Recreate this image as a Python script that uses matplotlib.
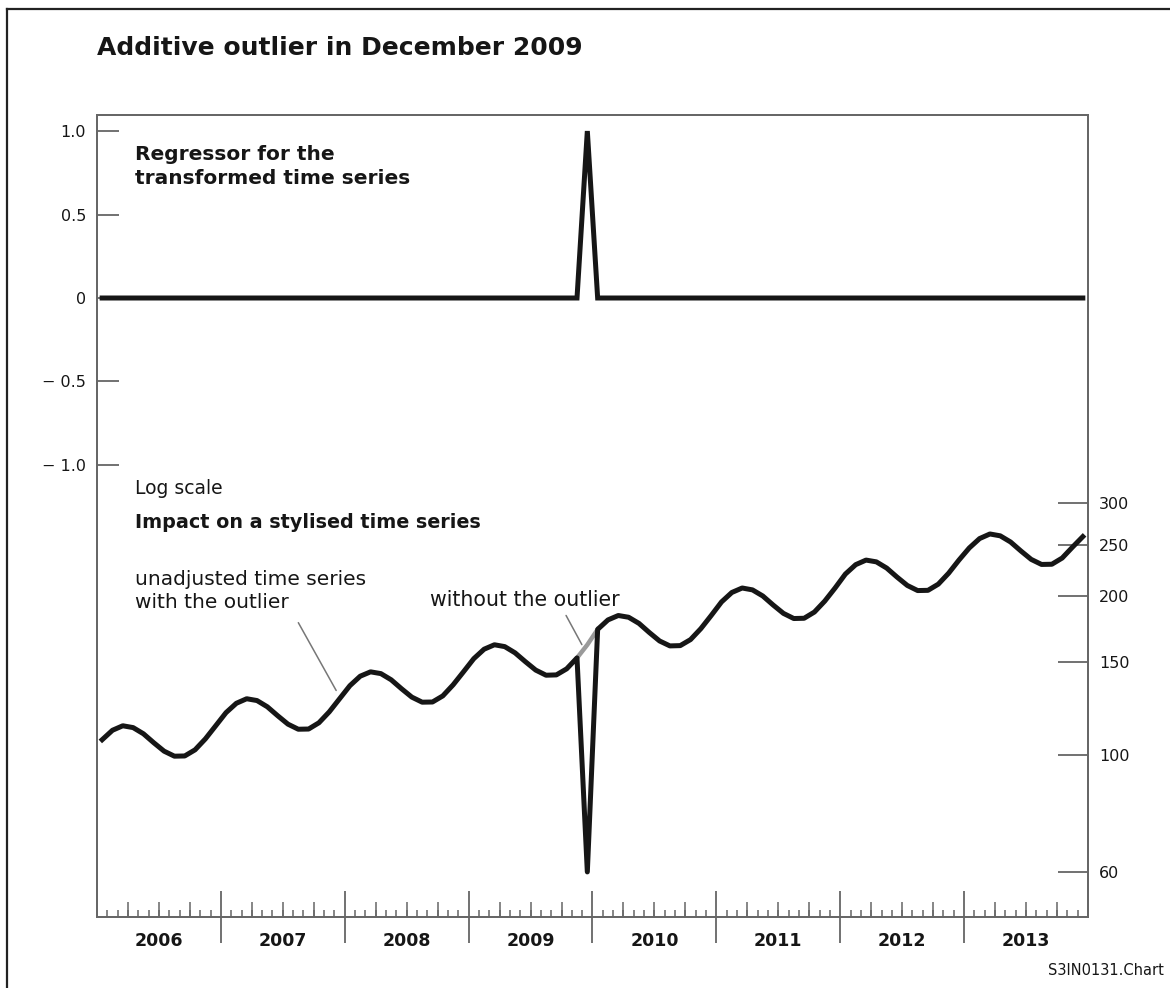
import numpy as np
import matplotlib.pyplot as plt
from matplotlib.lines import Line2D
from matplotlib.ticker import NullLocator

# monthly data, Jan 2006 .. Dec 2013
years = ['2006', '2007', '2008', '2009', '2010', '2011', '2012', '2013']
months = np.arange(96)

# regressor: additive outlier dummy, 1 in December 2009
regressor = [0] * 47 + [1] + [0] * 48

# stylised series without the outlier (log scale values)
adjusted = [
    106.8, 111.3, 113.5, 112.6, 109.6, 105.4, 101.6, 99.4, 99.5, 102.2, 107.2, 113.5,
    120.2, 125.2, 127.7, 126.7, 123.3, 118.6, 114.3, 111.8, 111.9, 115.0, 120.6, 127.7,
    135.2, 140.9, 143.6, 142.5, 138.7, 133.4, 128.6, 125.8, 125.9, 129.3, 135.7, 143.6,
    152.1, 158.5, 161.6, 160.3, 156.0, 150.1, 144.7, 141.5, 141.7, 145.5, 152.6, 161.6,
    172.8, 180.1, 183.6, 182.2, 177.4, 170.5, 164.3, 160.8, 161.0, 165.3, 173.4, 183.6,
    194.8, 203.0, 207.0, 205.3, 199.9, 192.2, 185.3, 181.2, 181.4, 186.4, 195.5, 207.0,
    220.0, 229.2, 233.8, 232.0, 225.8, 217.1, 209.3, 204.7, 204.9, 210.5, 220.8, 233.8,
    246.5, 256.8, 262.0, 259.9, 253.0, 243.3, 234.5, 229.4, 229.6, 235.9, 247.4, 259.0,
]
outlier_month = 47
outlier_value = 60

left_ticks = [1.0, 0.5, 0, -0.5, -1.0]
left_labels = ['1.0', '0.5', '0', '\u2212 0.5', '\u2212 1.0']
right_ticks = [60, 100, 150, 200, 250, 300]

unadjusted = list(adjusted)
unadjusted[outlier_month] = outlier_value

ink = '#161616'
spine_c = '#666666'

fig = plt.figure(figsize=(11.7, 9.88), dpi=100)
ax = fig.add_axes([0.0829, 0.0719, 0.8470, 0.8117])
ax2 = ax.twinx()

# top panel: regressor
ax.plot(months, regressor, color=ink, lw=3.6, solid_joinstyle='miter', zorder=3)
ax.set_xlim(-0.5, 95.5)
ax.set_ylim(-3.707, 1.096)
ax.set_yticks(left_ticks, left_labels)
ax.tick_params(axis='y', direction='in', length=16, width=1.3, color=spine_c,
               pad=8, labelsize=11.5, labelcolor=ink)

# bottom panel: stylised series, log scale on the right
ax2.set_yscale('log')
ax2.set_ylim(49.3, 1629)
ax2.set_yticks(right_ticks, [str(v) for v in right_ticks])
ax2.yaxis.set_minor_locator(NullLocator())
ax2.tick_params(axis='y', direction='in', length=21.6, width=1.3, color=spine_c,
                pad=8, labelsize=11.5, labelcolor=ink)
ax2.plot(months[46:49], adjusted[46:49], color='#9a9a9a', lw=3.2, zorder=2)
ax2.plot(months, unadjusted, color=ink, lw=3.6, solid_joinstyle='round', zorder=3)

# x axis: year dividers, quarter and month ticks
year_bounds = np.arange(11.5, 95, 12)
quarter_bounds = [q for q in np.arange(2.5, 95, 3) if (q + 0.5) % 12 != 0]
ax.set_xticks(year_bounds)
ax.set_xticks(np.arange(0.5, 95, 1), minor=True)
ax.tick_params(axis='x', which='major', direction='inout', length=37, width=1.3,
               color=spine_c, labelbottom=False)
ax.tick_params(axis='x', which='minor', direction='in', length=5, width=1.1,
               color=spine_c)

sec = ax.secondary_xaxis('bottom')
sec.set_xticks(quarter_bounds)
sec.tick_params(direction='in', length=11, width=1.1, color=spine_c, labelbottom=False)
sec.spines['bottom'].set_visible(False)

sec2 = ax.secondary_xaxis('bottom')
sec2.set_xticks(np.arange(5.5, 96, 12), years, fontweight='bold', fontsize=12.5, color=ink)
sec2.tick_params(length=0, pad=11)
sec2.spines['bottom'].set_visible(False)

for a in (ax, ax2):
    for s in a.spines.values():
        s.set_color(spine_c)
        s.set_linewidth(1.3)

# texts
fig.text(0.0829, 0.9514, 'Additive outlier in December 2009', fontsize=18,
         fontweight='bold', color=ink, va='center', ha='left')
ax.text(0.0383, 0.936, 'Regressor for the\ntransformed time series', transform=ax.transAxes,
        fontsize=14.5, fontweight='bold', color=ink, va='center', linespacing=1.3)
ax.text(0.0383, 0.5337, 'Log scale', transform=ax.transAxes, fontsize=13.5,
        color=ink, va='center')
ax.text(0.0383, 0.4913, 'Impact on a stylised time series', transform=ax.transAxes,
        fontsize=13.8, fontweight='bold', color=ink, va='center')
ax.text(0.0383, 0.4065, 'unadjusted time series\nwith the outlier', transform=ax.transAxes,
        fontsize=14.5, color=ink, va='center', linespacing=1.3)
ax.text(0.336, 0.3953, 'without the outlier', transform=ax.transAxes, fontsize=14.8,
        color=ink, va='center')

ax2.annotate('', xy=(22.8, 131), xytext=(0.2018, 0.370), textcoords='axes fraction',
             arrowprops=dict(arrowstyle='-', color='#777777', lw=1.1))
ax2.annotate('', xy=(46.6, 160), xytext=(0.472, 0.379), textcoords='axes fraction',
             arrowprops=dict(arrowstyle='-', color='#777777', lw=1.1))

fig.text(0.995, 0.018, 'S3IN0131.Chart', fontsize=10.5, color=ink, va='center', ha='right')

# outer frame (open to the right and bottom, as cropped)
fig.add_artist(Line2D([7 / 1170, 1], [1 - 9 / 988, 1 - 9 / 988], color='#222222', lw=1.6,
                      transform=fig.transFigure))
fig.add_artist(Line2D([7 / 1170, 7 / 1170], [0, 1 - 9 / 988], color='#222222', lw=1.6,
                      transform=fig.transFigure))

fig.savefig('out.png', dpi=100)
